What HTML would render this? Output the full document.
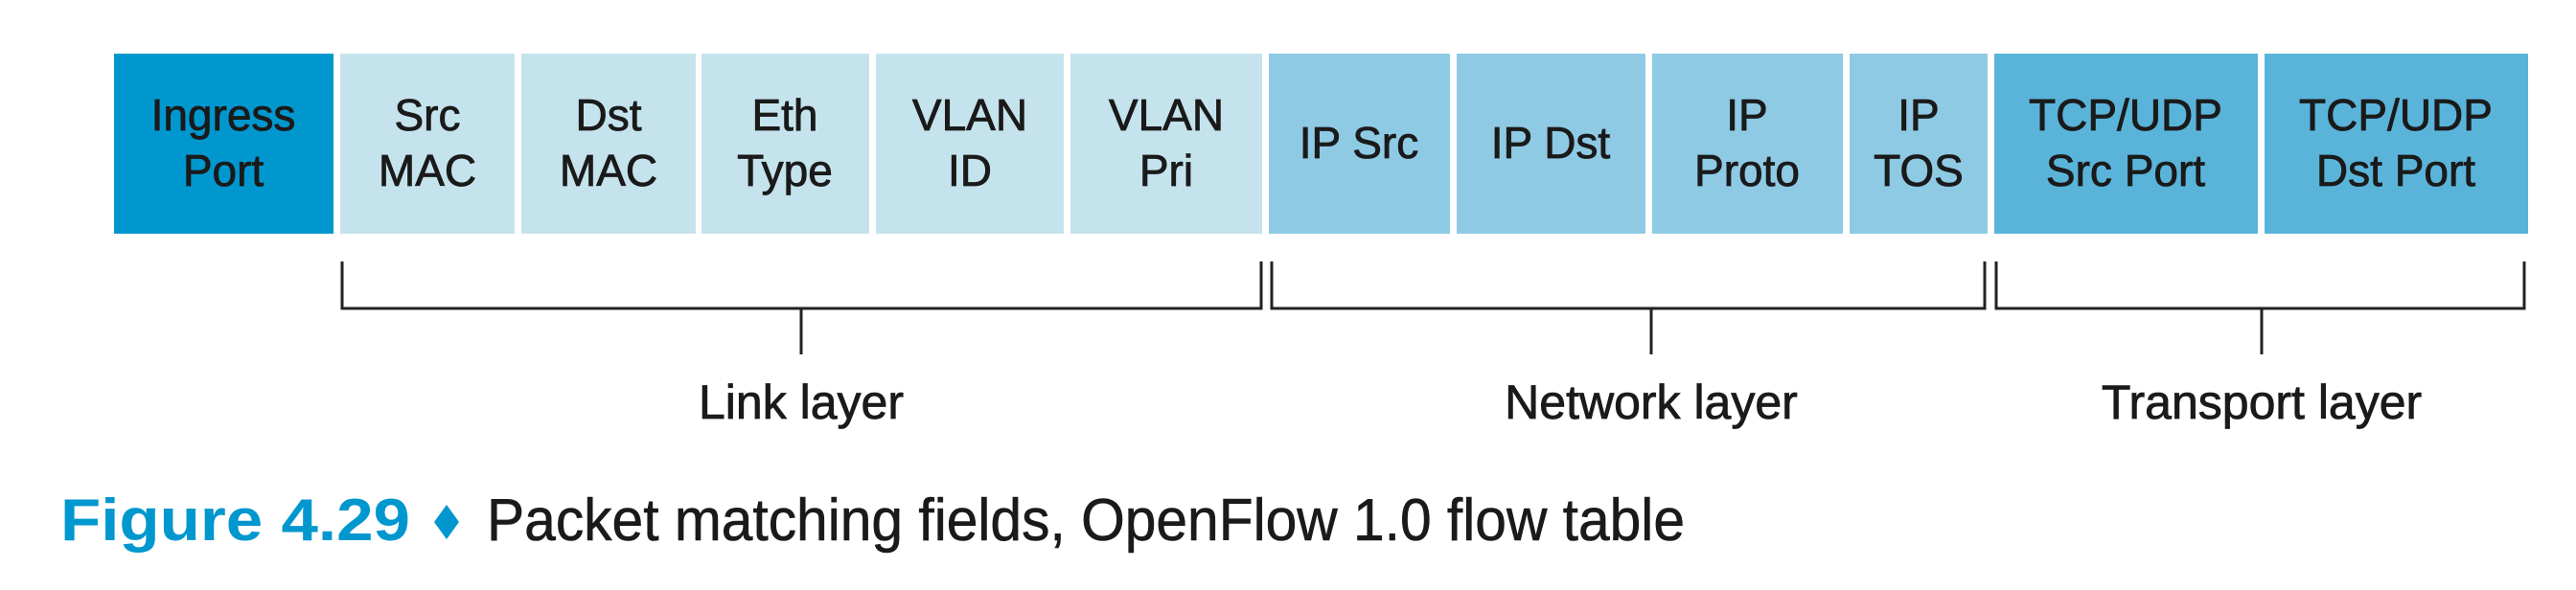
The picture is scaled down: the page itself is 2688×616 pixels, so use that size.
<!DOCTYPE html>
<html><head><meta charset="utf-8"><style>
html,body{margin:0;padding:0;background:#fff;}
svg{display:block;}
text{font-family:"Liberation Sans",sans-serif;fill:#1a1a1a;}
</style></head><body>
<svg width="2688" height="616" viewBox="0 0 2688 616" xmlns="http://www.w3.org/2000/svg">
<g>
<rect x="119" y="56" width="229" height="188" fill="#0097cf"/>
<rect x="355" y="56" width="182" height="188" fill="#c5e3ec"/>
<rect x="544" y="56" width="182" height="188" fill="#c5e3ec"/>
<rect x="732" y="56" width="175" height="188" fill="#c5e3ec"/>
<rect x="914" y="56" width="196" height="188" fill="#c5e3ec"/>
<rect x="1117" y="56" width="200" height="188" fill="#c5e3ec"/>
<rect x="1324" y="56" width="189" height="188" fill="#8ecae4"/>
<rect x="1520" y="56" width="197" height="188" fill="#8ecae4"/>
<rect x="1724" y="56" width="199" height="188" fill="#8ecae4"/>
<rect x="1930" y="56" width="144" height="188" fill="#8ecae4"/>
<rect x="2081" y="56" width="275" height="188" fill="#5ab4da"/>
<rect x="2363" y="56" width="275" height="188" fill="#5ab4da"/>
</g>
<g font-size="46" text-anchor="middle" stroke="#1a1a1a" stroke-width="0.8">
<text x="233" y="136">Ingress</text><text x="233" y="194">Port</text>
<text x="446" y="136">Src</text><text x="446" y="194">MAC</text>
<text x="635" y="136">Dst</text><text x="635" y="194">MAC</text>
<text x="819" y="136">Eth</text><text x="819" y="194">Type</text>
<text x="1012" y="136">VLAN</text><text x="1012" y="194">ID</text>
<text x="1217" y="136">VLAN</text><text x="1217" y="194">Pri</text>
<text x="1418" y="165">IP Src</text>
<text x="1618" y="165">IP Dst</text>
<text x="1823" y="136">IP</text><text x="1823" y="194">Proto</text>
<text x="2002" y="136">IP</text><text x="2002" y="194">TOS</text>
<text x="2218" y="136">TCP/UDP</text><text x="2218" y="194">Src Port</text>
<text x="2500" y="136">TCP/UDP</text><text x="2500" y="194">Dst Port</text>
</g>
<g stroke="#222" stroke-width="3" fill="none">
<polyline points="357,273 357,322 1316,322 1316,273"/>
<line x1="836" y1="322" x2="836" y2="370"/>
<polyline points="1327,273 1327,322 2071,322 2071,273"/>
<line x1="1723" y1="322" x2="1723" y2="370"/>
<polyline points="2083,273 2083,322 2634,322 2634,273"/>
<line x1="2360" y1="322" x2="2360" y2="370"/>
</g>
<g font-size="50" text-anchor="middle" stroke="#1a1a1a" stroke-width="0.8">
<text x="836" y="437">Link layer</text>
<text x="1723" y="437">Network layer</text>
<text x="2360" y="437">Transport layer</text>
</g>
<text x="63" y="564" font-size="62" font-weight="bold" style="fill:#0097cf" textLength="365" lengthAdjust="spacingAndGlyphs">Figure 4.29</text>
<polygon points="466,527 479,545 466,563 453,545" fill="#0097cf"/>
<text x="508" y="564" font-size="62" stroke="#1a1a1a" stroke-width="0.6" textLength="1250" lengthAdjust="spacingAndGlyphs">Packet matching fields, OpenFlow 1.0 flow table</text>
</svg>
</body></html>
